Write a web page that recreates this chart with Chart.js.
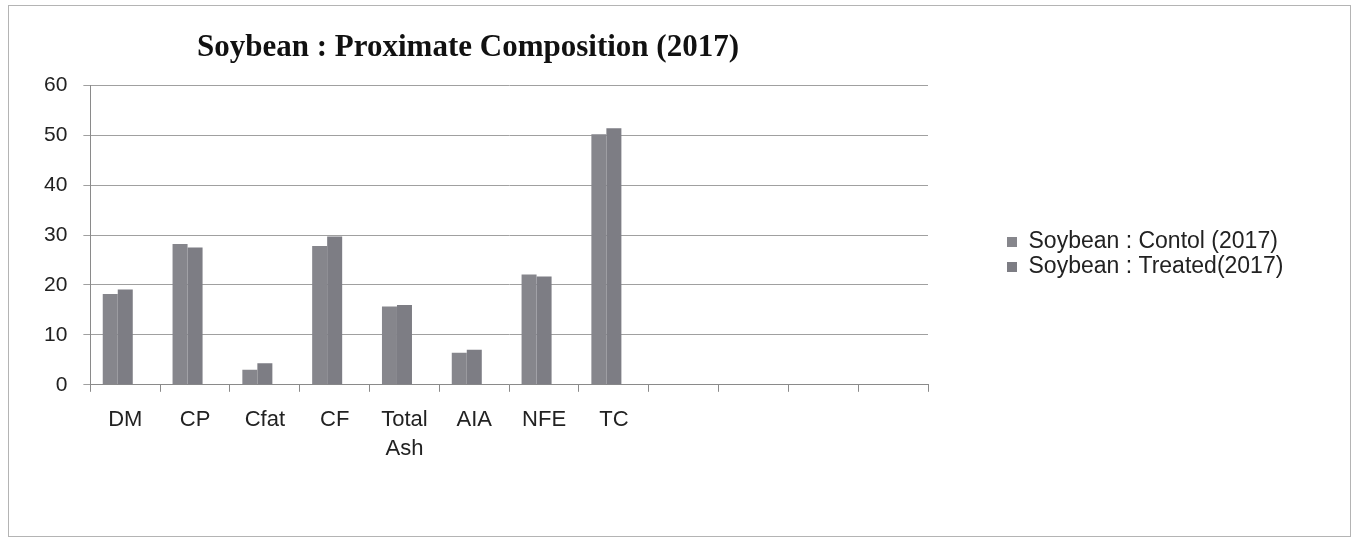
<!DOCTYPE html>
<html>
<head>
<meta charset="utf-8">
<script src="https://cdn.jsdelivr.net/npm/chart.js@4/dist/chart.umd.min.js"></script>
<style>
  html, body { margin: 0; padding: 0; background: #fff; }
  #wrap { position: relative; width: 1358px; height: 542px; }
  #frame { position: absolute; left: 8px; top: 5px; width: 1341px; height: 530px; border: 1px solid #b4b4b4; }
  #chart { position: absolute; left: 0; top: 0; }
</style>
</head>
<body>
<div id="wrap">
  <div id="frame"></div>
  <canvas id="chart" width="1358" height="542"></canvas>
</div>
<script>
// categories (last four slots are empty in the original sheet)
const categories = ["DM", "CP", "Cfat", "CF", ["Total", "Ash"], "AIA", "NFE", "TC", "", "", "", ""];
const controlValues = [18.2, 28.2, 3.0, 27.8, 15.7, 6.4, 22.1, 50.2];
const treatedValues = [19.1, 27.5, 4.3, 29.7, 16.0, 7.0, 21.7, 51.4];
const yTicks = [0, 10, 20, 30, 40, 50, 60];

const seriesNames = ["Soybean : Contol (2017)", "Soybean : Treated(2017)"];
const titleText = "Soybean : Proximate Composition (2017)";

// nudges the legend/title to where the scanned chart has them
const placeBlocks = {
    id: "placeBlocks",
    beforeLayout(chart) {
        const legend = chart.legend;
        if (legend && !legend._patched) {
            const fit = legend.fit;
            legend.fit = function () {
                fit.call(this);
                this.width = 430;
            };
            legend._patched = true;
        }
    },
    afterLayout(chart) {
        const legend = chart.legend;
        legend.left += 77;
        legend.top += 10;
        legend.bottom += 10;
        const title = chart.titleBlock;
        title.left = 0;
        title.right = 936;
    }
};

const ctx = document.getElementById("chart").getContext("2d");
new Chart(ctx, {
    type: "bar",
    data: {
        labels: categories,
        datasets: [
            { label: seriesNames[0], data: controlValues, backgroundColor: "#86868c", borderWidth: 0 },
            { label: seriesNames[1], data: treatedValues, backgroundColor: "#7d7d84", borderWidth: 0 },
            { label: "", data: [], backgroundColor: "rgba(0,0,0,0)" }
        ]
    },
    options: {
        responsive: false,
        animation: false,
        devicePixelRatio: 1,
        layout: { padding: { top: 12, left: 28, right: 0, bottom: 65 } },
        datasets: { bar: { categoryPercentage: 0.645, barPercentage: 1.0 } },
        scales: {
            x: {
                grid: { drawOnChartArea: false, drawTicks: true, tickLength: 7, color: "#8a8a8a" },
                border: { color: "#8a8a8a", width: 1 },
                ticks: {
                    color: "#222",
                    font: { family: "'Liberation Sans', Arial, sans-serif", size: 22, lineHeight: 1.3 },
                    padding: 14,
                    maxRotation: 0,
                    autoSkip: false
                }
            },
            y: {
                min: 0,
                max: 60,
                afterBuildTicks: axis => { axis.ticks = yTicks.map(v => ({ value: v })); },
                grid: { color: "#a0a0a0", tickLength: 7, drawTicks: true },
                border: { color: "#8a8a8a", width: 1 },
                ticks: {
                    color: "#222",
                    font: { family: "'Liberation Sans', Arial, sans-serif", size: 21 },
                    padding: 16
                }
            }
        },
        plugins: {
            title: {
                display: true,
                text: titleText,
                color: "#111",
                font: { family: "'Liberation Serif', 'Times New Roman', serif", size: 31, weight: "bold" },
                padding: { top: 17, bottom: 19 }
            },
            legend: {
                position: "right",
                labels: {
                    color: "#222",
                    font: { family: "'Liberation Sans', Arial, sans-serif", size: 23 },
                    boxWidth: 10,
                    boxHeight: 10,
                    padding: 2,
                    filter: item => item.text !== ""
                }
            },
            tooltip: { enabled: false }
        }
    },
    plugins: [placeBlocks]
});
</script>
</body>
</html>
